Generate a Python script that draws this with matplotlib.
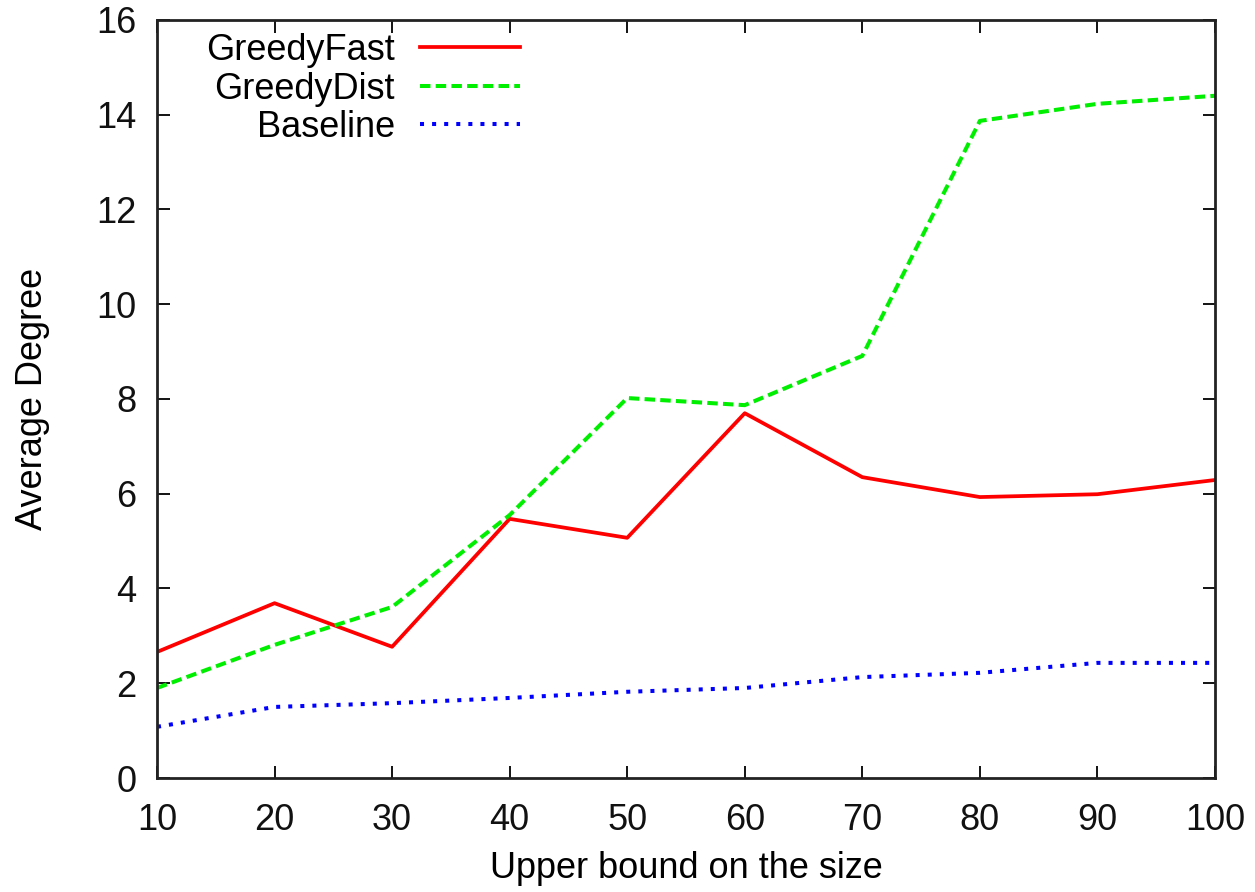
import matplotlib.pyplot as plt

plt.rcParams['font.family'] = ['Liberation Sans', 'DejaVu Sans']

sizes = [10, 20, 30, 40, 50, 60, 70, 80, 90, 100]
greedy_fast = [2.66, 3.69, 2.77, 5.47, 5.07, 7.70, 6.35, 5.93, 5.99, 6.29]
greedy_dist = [1.90, 2.81, 3.61, 5.55, 8.02, 7.87, 8.91, 13.87, 14.23, 14.40]
baseline = [1.08, 1.50, 1.58, 1.69, 1.82, 1.90, 2.13, 2.22, 2.43, 2.43]

fig = plt.figure(figsize=(12.55, 8.92), dpi=100)
ax = fig.add_axes([0.1251, 0.1278, 0.8430, 0.8498])

ax.plot(sizes, greedy_fast, color='#ff0000', lw=2.7, label='GreedyFast')
ax.plot(sizes, greedy_dist, color='#00ee00', lw=2.9, ls=(0, (2.6, 1.3)), label='GreedyDist')
ax.plot(sizes, baseline, color='#0000ff', lw=2.9, ls=(0, (1, 2)), label='Baseline')

ax.set_xlim(10, 100)
ax.set_ylim(0, 16)
ax.set_xticks(sizes)
ax.set_yticks(range(0, 17, 2))
ax.tick_params(direction='in', top=True, right=True, length=9, width=1.3,
               labelsize=26, labelcolor='#111111')
ax.tick_params(axis='x', pad=18)
ax.tick_params(axis='y', pad=15)
for s in ax.spines.values():
    s.set_linewidth(2)
    s.set_color('#222222')

ax.set_xlabel('Upper bound on the size', fontsize=26, labelpad=9)
ax.set_ylabel('Average Degree', fontsize=26, labelpad=33)

ax.legend(loc='upper left', frameon=False, markerfirst=False, fontsize=26,
          handlelength=2.75, handletextpad=0.7, labelspacing=0.1,
          borderaxespad=0.0, bbox_to_anchor=(0.033, 1.002))

fig.savefig('out.png')
